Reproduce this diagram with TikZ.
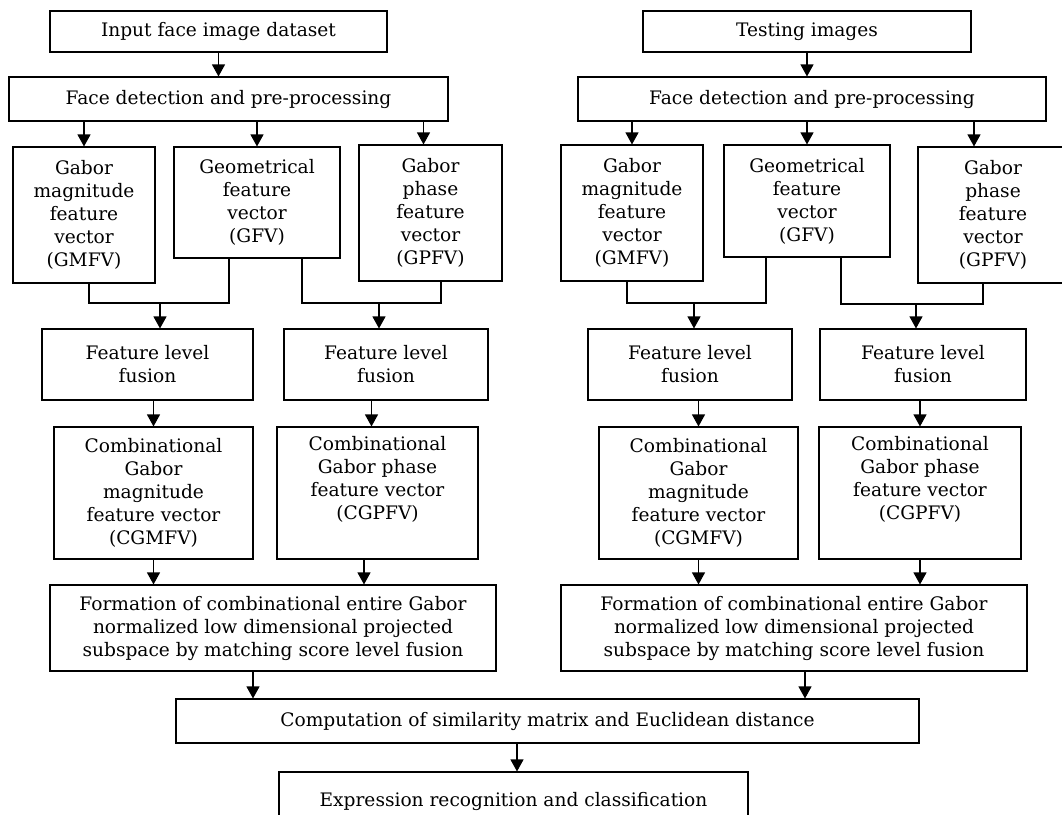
\documentclass[tikz,border=0pt]{standalone}
\usepackage{fontspec}
\setmainfont{DejaVu Serif}
\usetikzlibrary{arrows.meta}
\tikzset{
  box/.style={draw, line width=1.1pt, align=center, inner sep=0pt,
    font=\fontsize{18.6}{23}\selectfont},
  link/.style={line width=1.1pt},
  arr/.style={link, -{Triangle[width=13pt,length=12pt]}}
}
\begin{document}
\begin{tikzpicture}[x=1pt,y=-1pt]
  \useasboundingbox (0,0) rectangle (1062,814);
  % training column
  \node[box, minimum width=337pt, minimum height=41pt] (in1) at (218.5,31.5) {Input face image dataset};
  \node[box, minimum width=439pt, minimum height=44pt] (fd1) at (228.5,99) {Face detection and pre-processing};
  \node[box, minimum width=142pt, minimum height=136pt] (gm1) at (84,215) {Gabor\\magnitude\\feature\\vector\\(GMFV)};
  \node[box, minimum width=166pt, minimum height=111pt] (gf1) at (257,202.5) {Geometrical\\feature\\vector\\(GFV)};
  \node[box, minimum width=143pt, minimum height=136pt] (gp1) at (430.5,213) {Gabor\\phase\\feature\\vector\\(GPFV)};
  \node[box, minimum width=211pt, minimum height=71pt] (fu1) at (147.5,364.5) {Feature level\\fusion};
  \node[box, minimum width=204pt, minimum height=71pt] (fu2) at (386,364.5) {Feature level\\fusion};
  \node[box, minimum width=199pt, minimum height=132pt] (cm1) at (153.5,493) {Combinational\\Gabor\\magnitude\\feature vector\\(CGMFV)};
  \node[box, minimum width=201pt, minimum height=132pt] (cp1) at (377.5,493) {Combinational\\Gabor phase\\feature vector\\(CGPFV)\\ \strut};
  \node[box, minimum width=446pt, minimum height=86pt] (fo1) at (273,628) {Formation of combinational entire Gabor\\normalized low dimensional projected\\subspace by matching score level fusion};
  % testing column
  \node[box, minimum width=328pt, minimum height=41pt] (in2) at (807,31.5) {Testing images};
  \node[box, minimum width=468pt, minimum height=44pt] (fd2) at (812,99) {Face detection and pre-processing};
  \node[box, minimum width=142pt, minimum height=136pt] (gm2) at (632,213) {Gabor\\magnitude\\feature\\vector\\(GMFV)};
  \node[box, minimum width=166pt, minimum height=112pt] (gf2) at (807,201) {Geometrical\\feature\\vector\\(GFV)};
  \node[box, minimum width=150pt, minimum height=136pt] (gp2) at (993,215) {Gabor\\phase\\feature\\vector\\(GPFV)};
  \node[box, minimum width=204pt, minimum height=71pt] (fu3) at (690,364.5) {Feature level\\fusion};
  \node[box, minimum width=206pt, minimum height=71pt] (fu4) at (923,364.5) {Feature level\\fusion};
  \node[box, minimum width=199pt, minimum height=132pt] (cm2) at (698.5,493) {Combinational\\Gabor\\magnitude\\feature vector\\(CGMFV)};
  \node[box, minimum width=202pt, minimum height=132pt] (cp2) at (920,493) {Combinational\\Gabor phase\\feature vector\\(CGPFV)\\ \strut};
  \node[box, minimum width=466pt, minimum height=86pt] (fo2) at (794,628) {Formation of combinational entire Gabor\\normalized low dimensional projected\\subspace by matching score level fusion};
  % common part
  \node[box, minimum width=743pt, minimum height=44pt] (co) at (547.5,721) {Computation of similarity matrix and Euclidean distance};
  \node[box, minimum width=469pt, minimum height=58pt] (ex) at (513.5,801) {Expression recognition and classification};

  % connector points
  \coordinate (t1) at ([xshift=-7pt]gp1.north);
  \coordinate (m1) at (160,303);
  \coordinate (m2) at (379,303);
  \coordinate (m3) at (694,303);
  \coordinate (m4) at (916,304);
  \coordinate (f2) at ([xshift=-6pt]cp1.north);
  \coordinate (p1) at ([xshift=-13.5pt]cp1.south);
  \coordinate (o1) at ([xshift=-20pt]fo1.south);
  \coordinate (o2) at ([xshift=11pt]fo2.south);
  \coordinate (e1) at ([xshift=3.5pt]ex.north);
  \coordinate (t2) at ([xshift=-19pt]gp2.north);

  % arrows, training column
  \draw[arr] (in1.south) -- (in1.south |- fd1.north);
  \draw[arr] (fd1.south -| gm1.north) -- (gm1.north);
  \draw[arr] (fd1.south -| gf1.north) -- (gf1.north);
  \draw[arr] (fd1.south -| t1) -- (t1);
  \draw[link] ([xshift=5pt]gm1.south) |- (m1) -| ([xshift=-28pt]gf1.south);
  \draw[link] ([xshift=45pt]gf1.south) |- (m2) -| ([xshift=10.5pt]gp1.south);
  \draw[arr] (m1) -- (m1 |- fu1.north);
  \draw[arr] (m2) -- (m2 |- fu2.north);
  \draw[arr] (fu1.south -| cm1.north) -- (cm1.north);
  \draw[arr] (fu2.south -| f2) -- (f2);
  \draw[arr] (cm1.south) -- (cm1.south |- fo1.north);
  \draw[arr] (p1) -- (p1 |- fo1.north);
  % arrows, testing column
  \draw[arr] (in2.south) -- (in2.south |- fd2.north);
  \draw[arr] (fd2.south -| gm2.north) -- (gm2.north);
  \draw[arr] (fd2.south -| gf2.north) -- (gf2.north);
  \draw[arr] (fd2.south -| t2) -- (t2);
  \draw[link] ([xshift=-5pt]gm2.south) |- (m3) -| ([xshift=-41pt]gf2.south);
  \draw[link] ([xshift=34pt]gf2.south) |- (m4) -| ([xshift=-10pt]gp2.south);
  \draw[arr] (m3) -- (m3 |- fu3.north);
  \draw[arr] (m4) -- (m4 |- fu4.north);
  \draw[arr] (fu3.south -| cm2.north) -- (cm2.north);
  \draw[arr] (fu4.south -| cp2.north) -- (cp2.north);
  \draw[arr] (cm2.south) -- (cm2.south |- fo2.north);
  \draw[arr] (cp2.south) -- (cp2.south |- fo2.north);
  % arrows, common part
  \draw[arr] (o1) -- (o1 |- co.north);
  \draw[arr] (o2) -- (o2 |- co.north);
  \draw[arr] (co.south -| e1) -- (e1);
\end{tikzpicture}
\end{document}
